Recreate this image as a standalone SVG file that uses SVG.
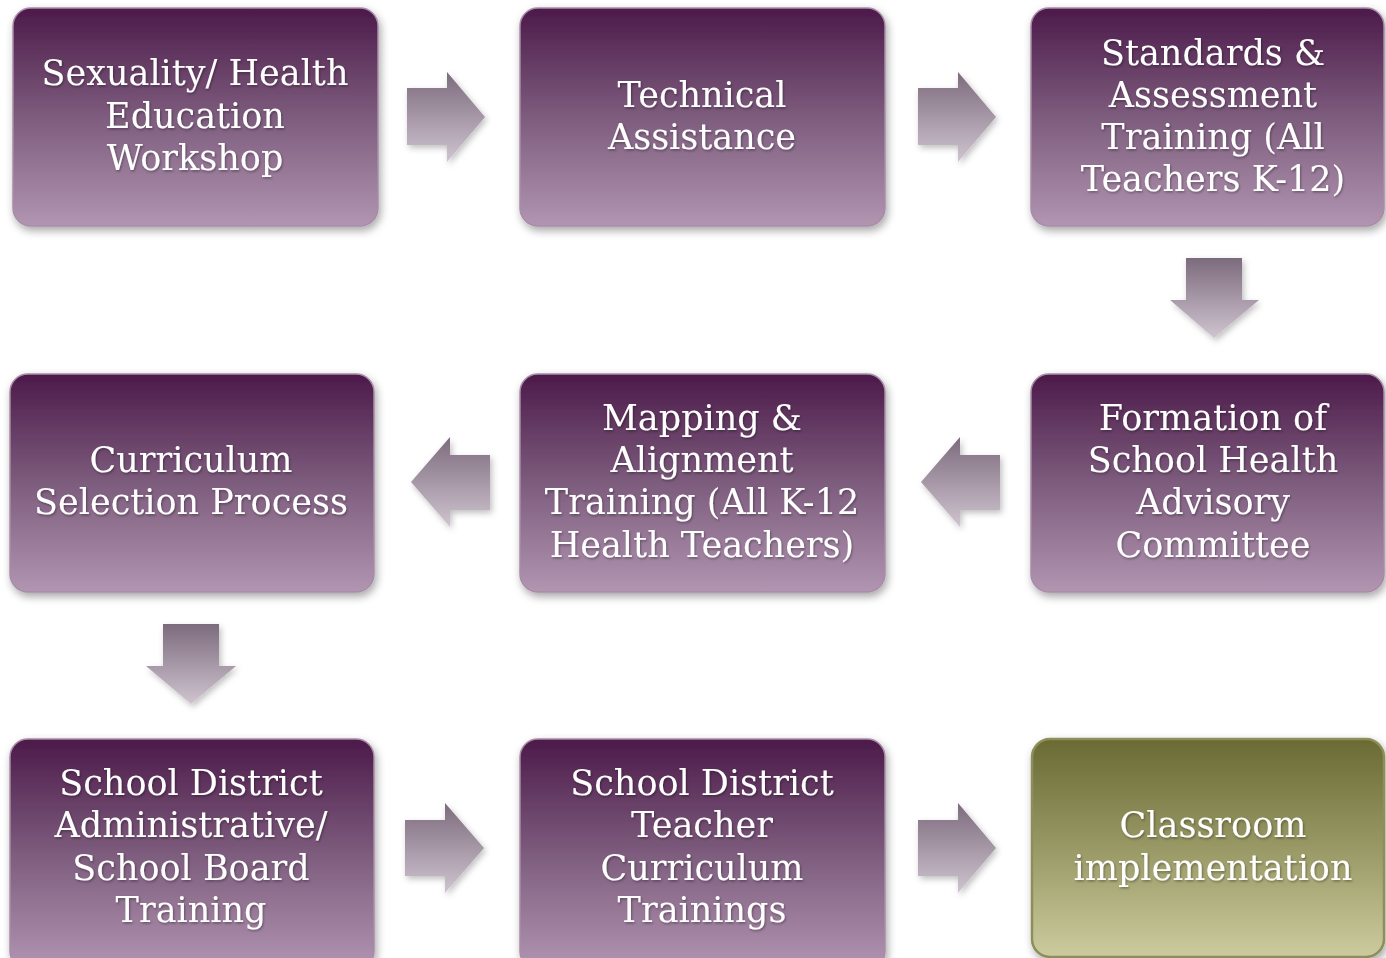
<svg xmlns="http://www.w3.org/2000/svg" width="1386" height="958" viewBox="0 0 1386 958">
<defs>
<linearGradient id="gp" x1="0" y1="0" x2="0" y2="1">
<stop offset="0" stop-color="#4c1a4a"/>
<stop offset="0.5" stop-color="#7d5c7d"/>
<stop offset="1" stop-color="#b195b1"/>
</linearGradient>
<linearGradient id="go" x1="0" y1="0" x2="0" y2="1">
<stop offset="0" stop-color="#6a6a34"/>
<stop offset="0.5" stop-color="#999966"/>
<stop offset="1" stop-color="#cbcb9e"/>
</linearGradient>
<linearGradient id="ga" x1="0" y1="0" x2="0" y2="1">
<stop offset="0" stop-color="#7c6b7d"/>
<stop offset="1" stop-color="#d0c4d0"/>
</linearGradient>
<filter id="sh" x="-10%" y="-10%" width="125%" height="125%">
<feDropShadow dx="2" dy="4" stdDeviation="4" flood-color="#000" flood-opacity="0.35"/>
</filter>
<filter id="ash" x="-20%" y="-20%" width="150%" height="150%">
<feDropShadow dx="2" dy="3" stdDeviation="3" flood-color="#000" flood-opacity="0.25"/>
</filter>
<filter id="tsh" x="-5%" y="-20%" width="110%" height="150%">
<feDropShadow dx="1" dy="1.5" stdDeviation="1" flood-color="#000" flood-opacity="0.35"/>
</filter>
</defs>
<style>
.box{fill:url(#gp);stroke:#a88ca8;stroke-width:1.5;filter:url(#sh)}
.obox{fill:url(#go);stroke:#8e8e5c;stroke-width:2.5;filter:url(#sh)}
.arr{fill:url(#ga);filter:url(#ash)}
text{font-family:"DejaVu Serif","Liberation Serif",serif;font-size:35px;fill:#ffffff;text-anchor:middle;filter:url(#tsh)}
</style>
<rect width="1386" height="958" fill="#ffffff"/>

<g id="connectors">
<path class="arr" d="M407,88 H447 V72 L485,117 L447,162 V145 H407 Z"/>
<path class="arr" d="M918,88 H958 V72 L996,117 L958,162 V145 H918 Z"/>
<path class="arr" d="M1186,258 H1242 V300 H1259 L1214,338 L1170,300 H1186 Z"/>
<path class="arr" d="M490,455 H450 V437 L411,482 L450,527 V510 H490 Z"/>
<path class="arr" d="M1000,455 H960 V437 L921,482 L960,527 V510 H1000 Z"/>
<path class="arr" d="M163,624 H219 V666 H236 L191,704 L146,666 H163 Z"/>
<path class="arr" d="M405,820 H445 V803 L484,848 L445,893 V876 H405 Z"/>
<path class="arr" d="M918,820 H958 V803 L996,848 L958,893 V876 H918 Z"/>
</g>

<g id="n1">
<rect class="box" x="13" y="8" width="365" height="218" rx="18"/>
<text x="195" y="85">Sexuality/ Health</text>
<text x="195" y="128">Education</text>
<text x="195" y="170">Workshop</text>
</g>
<g id="n2">
<rect class="box" x="520" y="8" width="365" height="218" rx="18"/>
<text x="702" y="107">Technical</text>
<text x="702" y="149">Assistance</text>
</g>
<g id="n3">
<rect class="box" x="1031" y="8" width="353" height="218" rx="18"/>
<text x="1213" y="65">Standards &amp;</text>
<text x="1213" y="107">Assessment</text>
<text x="1213" y="149">Training (All</text>
<text x="1213" y="191">Teachers K-12)</text>
</g>
<g id="n4">
<rect class="box" x="10" y="374" width="364" height="218" rx="18"/>
<text x="191" y="472">Curriculum</text>
<text x="191" y="514">Selection Process</text>
</g>
<g id="n5">
<rect class="box" x="520" y="374" width="365" height="218" rx="18"/>
<text x="702" y="430">Mapping &amp;</text>
<text x="702" y="472">Alignment</text>
<text x="702" y="514">Training (All K-12</text>
<text x="702" y="557">Health Teachers)</text>
</g>
<g id="n6">
<rect class="box" x="1031" y="374" width="353" height="218" rx="18"/>
<text x="1213" y="430">Formation of</text>
<text x="1213" y="472">School Health</text>
<text x="1213" y="514">Advisory</text>
<text x="1213" y="557">Committee</text>
</g>
<g id="n7">
<rect class="box" x="10" y="739" width="364" height="230" rx="18"/>
<text x="191" y="795">School District</text>
<text x="191" y="837">Administrative/</text>
<text x="191" y="880">School Board</text>
<text x="191" y="922">Training</text>
</g>
<g id="n8">
<rect class="box" x="520" y="739" width="365" height="230" rx="18"/>
<text x="702" y="795">School District</text>
<text x="702" y="837">Teacher</text>
<text x="702" y="880">Curriculum</text>
<text x="702" y="922">Trainings</text>
</g>
<g id="n9">
<rect class="obox" x="1032" y="739" width="352" height="218" rx="18"/>
<text x="1213" y="837">Classroom</text>
<text x="1213" y="880">implementation</text>
</g>
</svg>
